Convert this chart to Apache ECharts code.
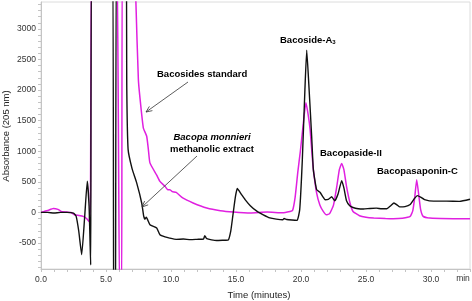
<!DOCTYPE html>
<html><head><meta charset="utf-8">
<script src="https://cdn.jsdelivr.net/npm/echarts@6/dist/echarts.min.js"></script>
<style>html,body{margin:0;padding:0;background:#fff}#c{width:472px;height:301px}</style>
</head><body><div id="c"></div>
<script>
// Bacopa monnieri methanolic extract (black)
const extractTime = [0,0.5,1,1.5,2,2.5,2.7,2.9,3.13,3.35,3.56,3.7,3.82,3.95,5.45,5.6,5.72,5.85,6.5,6.6,6.7,7.0,7.36,7.75,7.9,8.0,8.1,8.38,8.9,9.15,9.54,9.9,10.4,10.95,11.5,12.0,12.5,12.6,12.75,13.5,14.0,14.4,14.6,14.75,14.95,15.1,15.4,15.7,16.1,16.6,17.1,17.6,18.1,18.6,18.7,18.9,19.3,19.7,19.9,20.1,20.3,20.44,20.6,20.82,20.95,21.2,21.46,21.7,21.85,22.1,22.36,22.6,22.85,23.13,23.3,23.5,23.75,24.0,24.4,24.8,25.3,25.8,26.2,26.6,26.9,27.15,27.4,27.6,28.0,28.4,28.7,28.95,29.2,29.5,30.2,31.2,32.2,33.0];
const extractAbs = [0,0,-10,0,0,-10,-60,-300,-690,-100,510,100,-860,5000,5000,-2000,-2000,5000,5000,2000,1030,720,482,150,-60,-110,-80,-200,-255,-365,-400,-420,-440,-435,-445,-440,-435,-380,-430,-460,-455,-450,-300,-65,250,390,300,210,110,20,-40,-90,-110,-120,-100,-115,-125,-130,45,850,2000,2650,2100,1246,700,372,330,250,208,215,255,190,300,520,400,190,110,80,60,55,65,70,60,60,110,155,120,90,95,130,220,275,250,210,185,185,180,215];
// Bacosides standard (magenta)
const standardTime = [0,0.5,0.95,1.3,1.6,2.0,2.3,2.6,3.25,3.5,3.7,3.8,4.05,5.68,6.05,6.2,6.3,7.2,7.3,7.49,7.6,7.87,8.13,8.26,8.38,8.9,9.15,9.54,9.75,9.9,10.1,10.4,10.9,11.7,12.75,13.8,14.8,16.1,17.4,18.6,19.15,19.35,19.55,19.75,19.95,20.15,20.38,20.55,20.7,20.85,20.95,21.2,21.45,21.7,21.95,22.2,22.5,22.75,22.95,23.13,23.3,23.5,23.77,24.0,24.5,25.0,25.6,26.5,27.1,27.8,28.4,28.6,28.75,28.9,29.05,29.2,29.4,29.9,31.7,33.0];
const standardAbs = [0,30,65,50,10,5,0,-38,-65,-100,-150,200,5000,5000,-1300,-1300,5000,5000,3440,2175,1900,1384,1245,1028,810,610,508,426,370,372,340,328,236,154,72,28,6,-10,6,-5,16,30,250,650,1000,1400,1793,1600,1355,950,700,318,120,20,-40,-20,120,420,700,800,700,426,154,16,-54,-80,-92,-100,-103,-95,-65,30,250,536,300,50,-65,-92,-103,-105];
const xLabelValues = [0,5,10,15,20,25,30];
const yLabelValues = [-500,0,500,1000,1500,2000,2500,3000];

const pairs = (t, v) => t.map((x, i) => [x, v[i]]);
const xMinor = []; for (let i = 0; i <= 33; i++) xMinor.push(i);
const yMinor = []; for (let v = -900; v <= 3400; v += 100) yMinor.push(v);

function arrow(x1, y1, x2, y2) {
  const dx = x2 - x1, dy = y2 - y1, L = Math.hypot(dx, dy);
  const ux = dx / L, uy = dy / L, h = 6, w = 2.6;
  const bx = x2 - ux * h, by = y2 - uy * h;
  return [
    {type:'line', shape:{x1, y1, x2, y2}, style:{stroke:'#333', lineWidth:0.8}, z:10},
    {type:'polyline', shape:{points:[[bx - uy*w, by + ux*w],[x2, y2],[bx + uy*w, by - ux*w]]}, style:{stroke:'#333', lineWidth:0.8, fill:null}, z:10}
  ];
}
const FONT = 'Liberation Sans, Arial, sans-serif';
const bold = (text, x, y, extra) => Object.assign({type:'text', x, y, z:10, style:{text, font:'bold 9.5px ' + FONT, fill:'#000', align:'left', verticalAlign:'middle'}}, extra || {});

const chart = echarts.init(document.getElementById('c'), null, {renderer:'canvas'});
chart.setOption({
  animation:false,
  grid:{left:41, right:2, top:2, bottom:32, containLabel:false, outerBoundsMode:'none', show:true, borderColor:'#dcdcdc', borderWidth:1},
  xAxis:{type:'value', min:0, max:33,
    axisLine:{show:true, onZero:false, lineStyle:{color:'#c4c4c4', width:1}},
    axisTick:{show:true, length:3, customValues:xMinor, lineStyle:{color:'#c4c4c4'}},
    axisLabel:{customValues:xLabelValues, formatter:v => v.toFixed(1), fontSize:8.5, color:'#333', margin:6, fontFamily:FONT},
    splitLine:{show:false}},
  yAxis:{type:'value', min:-925, max:3440,
    axisLine:{show:true, onZero:false, lineStyle:{color:'#c4c4c4', width:1}},
    axisTick:{show:true, length:3, customValues:yMinor, lineStyle:{color:'#c4c4c4'}},
    axisLabel:{customValues:yLabelValues, formatter:v => String(v), fontSize:8.5, color:'#333', margin:5, fontFamily:FONT},
    splitLine:{show:false}},
  series:[
    {type:'line', name:'Bacosides standard', data:pairs(standardTime, standardAbs), showSymbol:false, smooth:0.15, clip:true,
      lineStyle:{color:'#e020e0', width:1.5}, z:2},
    {type:'line', name:'Bacopa monnieri methanolic extract', data:pairs(extractTime, extractAbs), showSymbol:false, smooth:0.15, clip:true,
      lineStyle:{color:'#111', width:1.4}, z:3}
  ],
  graphic:[
    {type:'text', x:6, y:136, rotation:Math.PI/2, style:{text:'Absorbance (205 nm)', font:'9.5px ' + FONT, fill:'#222', align:'center', verticalAlign:'middle'}},
    {type:'text', x:259, y:295, style:{text:'Time (minutes)', font:'9.5px ' + FONT, fill:'#222', align:'center', verticalAlign:'middle'}},
    {type:'text', x:463, y:279, style:{text:'min', font:'8.5px ' + FONT, fill:'#333', align:'center', verticalAlign:'middle'}},
    bold('Bacosides standard', 157, 74),
    {type:'text', x:212, y:137, z:10, style:{text:'Bacopa monnieri', font:'italic bold 9.5px ' + FONT, fill:'#000', align:'center', verticalAlign:'middle'}},
    {type:'text', x:212, y:149, z:10, style:{text:'methanolic extract', font:'bold 9.5px ' + FONT, fill:'#000', align:'center', verticalAlign:'middle'}},
    {type:'text', x:280, y:40, z:10, style:{text:'Bacoside-A{s|3}', font:'bold 9.5px ' + FONT, fill:'#000', align:'left', verticalAlign:'middle',
      rich:{s:{font:'bold 6px ' + FONT, fill:'#000', padding:[5,0,0,0]}}}},
    bold('Bacopaside-II', 320, 153),
    bold('Bacopasaponin-C', 377, 171),
    ...arrow(188, 82, 146, 112),
    ...arrow(197, 156, 142, 207)
  ]
});
</script></body></html>
